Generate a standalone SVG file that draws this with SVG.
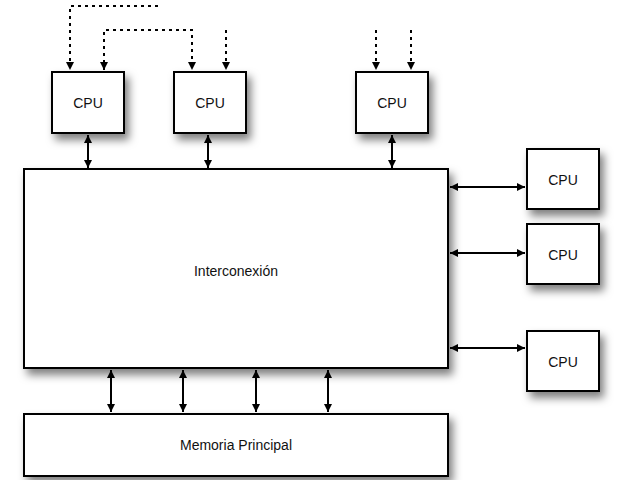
<svg xmlns="http://www.w3.org/2000/svg" width="619" height="480" viewBox="0 0 619 480">
<defs>
<filter id="sh" x="-30%" y="-30%" width="160%" height="160%"><feDropShadow dx="4" dy="6" stdDeviation="4" flood-color="#000" flood-opacity="0.5"/></filter>
<marker id="a" viewBox="0 0 10 10" refX="10" refY="5" markerWidth="8" markerHeight="8" orient="auto-start-reverse" markerUnits="userSpaceOnUse"><path d="M0,0 L10,5 L0,10 z" fill="#000"/></marker>
</defs>
<style>
.b{fill:#fff;stroke:#000;stroke-width:2;filter:url(#sh)}
.t{font-family:"Liberation Sans",Arial,sans-serif;font-size:14px;text-anchor:middle;fill:#111}
.c{stroke:#000;stroke-width:2;fill:none}
.d{stroke:#000;stroke-width:2;fill:none;stroke-dasharray:3,4}
</style>
<g id="connectors">
<path class="d" d="M158,6 H70 V70" marker-end="url(#a)"/>
<path class="d" d="M104,70 V30 H192 V70" marker-start="url(#a)" marker-end="url(#a)"/>
<path class="d" d="M226,30 V70" marker-end="url(#a)"/>
<path class="d" d="M376,30 V70" marker-end="url(#a)"/>
<path class="d" d="M411,30 V70" marker-end="url(#a)"/>
<path class="c" d="M88,135 V168" marker-start="url(#a)" marker-end="url(#a)"/>
<path class="c" d="M208,135 V168" marker-start="url(#a)" marker-end="url(#a)"/>
<path class="c" d="M392,135 V168" marker-start="url(#a)" marker-end="url(#a)"/>
<path class="c" d="M450,187 H525" marker-start="url(#a)" marker-end="url(#a)"/>
<path class="c" d="M450,253 H525" marker-start="url(#a)" marker-end="url(#a)"/>
<path class="c" d="M450,348 H525" marker-start="url(#a)" marker-end="url(#a)"/>
<path class="c" d="M111,370 V412" marker-start="url(#a)" marker-end="url(#a)"/>
<path class="c" d="M183,370 V412" marker-start="url(#a)" marker-end="url(#a)"/>
<path class="c" d="M256,370 V412" marker-start="url(#a)" marker-end="url(#a)"/>
<path class="c" d="M328,370 V412" marker-start="url(#a)" marker-end="url(#a)"/>
</g>
<g id="cpu1"><rect class="b" x="52" y="72" width="72" height="61"/><text class="t" x="88" y="108">CPU</text></g>
<g id="cpu2"><rect class="b" x="174" y="72" width="72" height="61"/><text class="t" x="210" y="108">CPU</text></g>
<g id="cpu3"><rect class="b" x="356" y="72" width="72" height="61"/><text class="t" x="392" y="108">CPU</text></g>
<g id="interconexion"><rect class="b" x="24" y="169" width="424" height="199"/><text class="t" x="236" y="276">Interconexión</text></g>
<g id="cpu4"><rect class="b" x="527" y="149" width="72" height="60"/><text class="t" x="563" y="185">CPU</text></g>
<g id="cpu5"><rect class="b" x="527" y="224" width="72" height="60"/><text class="t" x="563" y="260">CPU</text></g>
<g id="cpu6"><rect class="b" x="527" y="331" width="72" height="60"/><text class="t" x="563" y="367">CPU</text></g>
<g id="memoria"><rect class="b" x="24" y="414" width="424" height="62"/><text class="t" x="236" y="450">Memoria  Principal</text></g>
</svg>
